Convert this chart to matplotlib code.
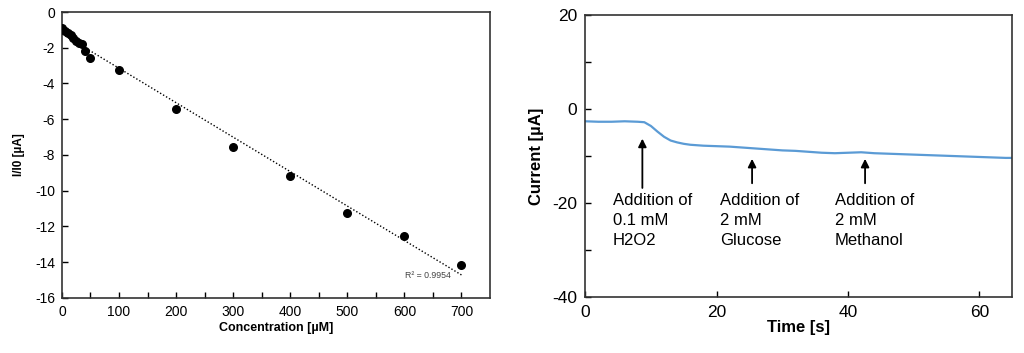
import numpy as np
import matplotlib
matplotlib.use("Agg")
import matplotlib.pyplot as plt

plt.rcParams['font.family'] = ['Liberation Sans', 'DejaVu Sans']
plt.rcParams['axes.unicode_minus'] = False

# Left panel: calibration data
conc = [0, 5, 10, 15, 20, 25, 30, 35, 40, 50, 100, 200, 300, 400, 500, 600, 700]
ratio = [-0.9, -1.05, -1.2, -1.3, -1.45, -1.6, -1.75, -1.8, -2.2, -2.6,
         -3.25, -5.4, -7.55, -9.15, -11.25, -12.55, -14.15]
r2_label = "R² = 0.9954"

# Right panel: amperometric trace
time_s = [0, 2, 4, 6, 8, 9, 10, 11, 12, 13, 14, 15, 16, 18, 20, 22, 24, 26,
          28, 30, 32, 34, 36, 38, 40, 42, 44, 46, 48, 50, 52, 54, 56, 58,
          60, 62, 64, 65]
current = [-2.6, -2.7, -2.7, -2.6, -2.7, -2.8, -3.6, -4.8, -5.9, -6.7, -7.1,
           -7.4, -7.6, -7.8, -7.9, -8.0, -8.2, -8.4, -8.6, -8.8, -8.9, -9.1,
           -9.3, -9.4, -9.3, -9.2, -9.4, -9.5, -9.6, -9.7, -9.8, -9.9, -10.0,
           -10.1, -10.2, -10.3, -10.4, -10.4]

events = ["Addition of\n0.1 mM\nH2O2", "Addition of\n2 mM\nGlucose",
          "Addition of\n2 mM\nMethanol"]
event_times = [8.7, 25.4, 42.6]
arrow_tips = [-6.3, -10.6, -10.6]
text_x = [4.2, 20.5, 38.0]

fig = plt.figure(figsize=(10.24, 3.53), dpi=100)

# ---------- left ----------
ax1 = fig.add_axes([0.0605, 0.156, 0.418, 0.810])
coef = np.polyfit(conc, ratio, 1)
xf = np.array([0, 700])
ax1.plot(xf, np.polyval(coef, xf), linestyle=(0, (1, 1.5)), color='black', lw=1.0)
ax1.scatter(conc, ratio, s=30, color='black', zorder=3)
ax1.text(642, -14.75, r2_label, fontsize=6.3, ha='center', va='center', color='#444444')
ax1.set_xlim(0, 750)
ax1.set_ylim(-16, 0)
ax1.set_xticks([0, 100, 200, 300, 400, 500, 600, 700])
ax1.set_xticks(np.arange(50, 750, 100), minor=True)
ax1.set_yticks(np.arange(-16, 1, 2))
ax1.tick_params(direction='in', labelsize=10, length=4, width=1, pad=5)
ax1.tick_params(which='minor', direction='in', length=4, width=1)
ax1.set_xlabel("Concentration [µM]", fontsize=9, fontweight='bold', labelpad=2)
ax1.set_ylabel("I/I0 [µA]", fontsize=8.5, fontweight='bold', labelpad=7)
for s in ax1.spines.values():
    s.set_linewidth(1.2)
    s.set_color('#333333')

# ---------- right ----------
ax2 = fig.add_axes([0.5715, 0.159, 0.417, 0.798])
ax2.plot(time_s, current, color='#5b9bd5', lw=1.6)
for ev, t, tip, tx in zip(events, event_times, arrow_tips, text_x):
    ax2.annotate('', xy=(t, tip), xytext=(t, tip - (10.5 if tip > -8 else 5.2)),
                 arrowprops=dict(arrowstyle='-|>', color='black', lw=1.3,
                                 mutation_scale=12, shrinkA=0, shrinkB=0))
    ax2.text(tx, -17.9, ev, fontsize=12, ha='left', va='top', linespacing=1.42)
ax2.set_xlim(0, 65)
ax2.set_ylim(-40, 20)
ax2.set_xticks([0, 20, 40, 60])
ax2.set_yticks([-40, -20, 0, 20])
ax2.set_yticks([-30, -10, 10], minor=True)
ax2.tick_params(direction='in', labelsize=12.5, length=4, width=1, pad=6)
ax2.tick_params(which='minor', direction='in', length=4, width=1)
ax2.set_xlabel("Time [s]", fontsize=12, fontweight='bold', labelpad=0)
ax2.set_ylabel("Current [µA]", fontsize=12, fontweight='bold', labelpad=6)
for s in ax2.spines.values():
    s.set_linewidth(1.2)
    s.set_color('#333333')

fig.savefig("out.png", dpi=100)
